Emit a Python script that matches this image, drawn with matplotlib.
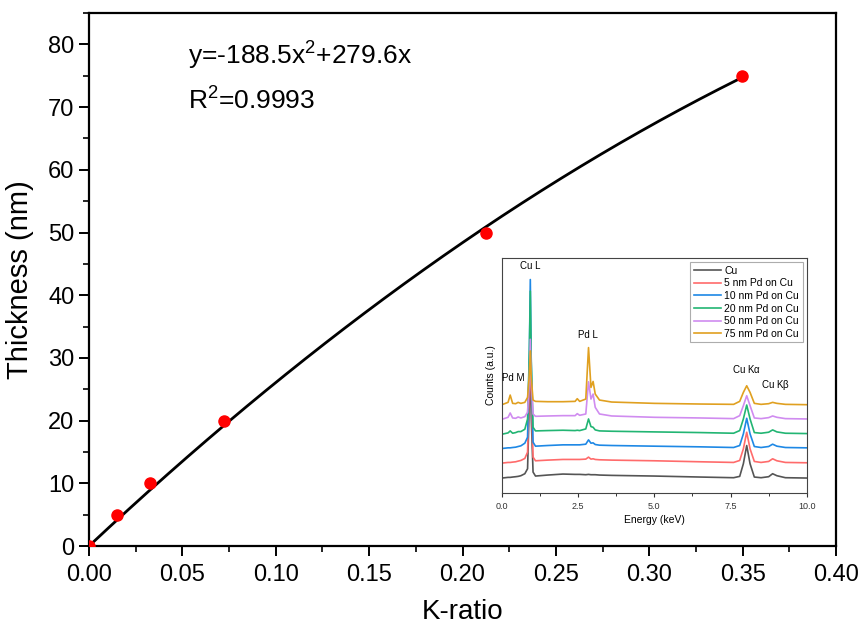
import numpy as np
import matplotlib
matplotlib.use("Agg")
import matplotlib.pyplot as plt
from matplotlib.ticker import MultipleLocator, FormatStrFormatter

plt.rcParams["font.family"] = ["Liberation Sans", "DejaVu Sans"]
plt.rcParams["mathtext.default"] = "regular"

# calibration points
k_ratio = [0.0, 0.015, 0.0328, 0.0725, 0.2126, 0.3495]
thickness = [0, 5, 10, 20, 50, 75]

# quadratic fit from the legend text
FIT_A = -188.5
FIT_B = 279.6

# inset EDS spectra (arbitrary units)
energy = [0.0, 0.2, 0.27, 0.35, 0.45, 0.53, 0.62, 0.75, 0.84, 0.9,
          0.93, 0.96, 1.02, 1.1, 1.5, 2.0, 2.4, 2.47, 2.55, 2.75,
          2.84, 2.92, 2.99, 3.06, 3.2, 3.6, 5.0, 6.5, 7.6, 7.8,
          7.92, 8.03, 8.14, 8.28, 8.5, 8.75, 8.88, 9.02, 9.3, 10.0]
cu = [45, 47, 47, 48, 49, 50, 52, 58, 73, 278,
      398, 228, 63, 51, 54, 57, 56, 56, 56, 55,
      56, 55, 55, 55, 54, 53, 51, 48, 46, 50,
      88, 143, 88, 48, 46, 49, 58, 52, 46, 45]
pd5 = [90, 92, 92, 93, 94, 96, 98, 104, 123, 328,
       478, 308, 108, 97, 99, 101, 101, 101, 101, 102,
       108, 102, 103, 101, 100, 99, 97, 94, 92, 98,
       133, 183, 133, 95, 92, 95, 103, 97, 92, 91]
pd10 = [134, 136, 136, 137, 138, 140, 142, 150, 168, 428,
        643, 398, 153, 141, 143, 145, 145, 145, 145, 147,
        160, 150, 151, 146, 144, 143, 141, 139, 137, 143,
        178, 225, 178, 140, 137, 140, 147, 141, 137, 136]
pd20 = [177, 181, 187, 180, 182, 185, 185, 192, 223, 428,
        608, 398, 198, 187, 188, 189, 188, 189, 188, 193,
        223, 200, 198, 190, 187, 186, 184, 182, 180, 188,
        223, 265, 223, 182, 180, 183, 190, 184, 180, 179]
pd50 = [222, 228, 241, 226, 225, 229, 226, 230, 243, 348,
        463, 338, 238, 231, 232, 233, 233, 239, 234, 238,
        335, 283, 298, 258, 238, 232, 228, 226, 224, 233,
        263, 293, 263, 226, 224, 227, 232, 228, 224, 223]
pd75 = [266, 273, 295, 270, 269, 273, 270, 273, 288, 358,
        428, 348, 280, 276, 275, 275, 276, 284, 276, 283,
        438, 318, 336, 298, 280, 274, 270, 268, 267, 276,
        303, 323, 303, 270, 267, 269, 273, 270, 267, 266]

spectra = [cu, pd5, pd10, pd20, pd50, pd75]
labels = ["Cu", "5 nm Pd on Cu", "10 nm Pd on Cu", "20 nm Pd on Cu",
          "50 nm Pd on Cu", "75 nm Pd on Cu"]
colors = ["#555555", "#ff6b6b", "#1e88e5", "#22b573", "#d08cf0", "#e0a020"]

peak_names = ["Cu L", "Pd M", "Pd L", "Cu K$\\alpha$", "Cu K$\\beta$"]
peak_x = [0.93, 0.36, 2.83, 8.03, 8.96]
peak_y = [670, 330, 460, 355, 305]

fig = plt.figure(figsize=(8.61, 6.3), dpi=100)
ax = fig.add_axes([0.1034, 0.1333, 0.8676, 0.846])

x_fit = np.linspace(0, k_ratio[-1], 200)
ax.plot(x_fit, FIT_A * x_fit ** 2 + FIT_B * x_fit, color="black", lw=2)
ax.plot(k_ratio, thickness, "o", color="#ff0000", ms=8, zorder=3)

ax.set_xlim(0, 0.40)
ax.set_ylim(0, 85)
ax.xaxis.set_major_locator(MultipleLocator(0.05))
ax.xaxis.set_minor_locator(MultipleLocator(0.025))
ax.yaxis.set_major_locator(MultipleLocator(10))
ax.yaxis.set_minor_locator(MultipleLocator(5))
ax.xaxis.set_major_formatter(FormatStrFormatter("%.2f"))
ax.tick_params(which="major", length=7, width=1.4, labelsize=17)
ax.tick_params(axis="x", which="major", pad=6)
ax.tick_params(which="minor", length=4, width=1.2)
for s in ax.spines.values():
    s.set_linewidth(1.6)
ax.set_xlabel("K-ratio", fontsize=20, labelpad=9)
ax.set_ylabel("Thickness (nm)", fontsize=21, labelpad=10)

ax.text(0.1325, 0.904, "y=-188.5x$^{2}$+279.6x", transform=ax.transAxes,
        fontsize=19, va="baseline")
ax.text(0.1325, 0.818, "R$^{2}$=0.9993", transform=ax.transAxes,
        fontsize=19, va="baseline")

# inset
ins = fig.add_axes([0.583, 0.2175, 0.354, 0.373])
for spec, lab, col in zip(spectra, labels, colors):
    ins.plot(energy, spec, color=col, lw=1.2, label=lab)
for name, px, py in zip(peak_names, peak_x, peak_y):
    ins.text(px, py, name, fontsize=7, ha="center", va="bottom")

ins.set_xlim(0, 10)
ins.set_ylim(0, 708)
ins.set_yticks([])
ins.xaxis.set_major_locator(MultipleLocator(2.5))
ins.xaxis.set_minor_locator(MultipleLocator(1.25))
ins.xaxis.set_major_formatter(FormatStrFormatter("%.1f"))
ins.tick_params(which="major", length=3, width=0.8, labelsize=6.5, colors="#333333")
ins.tick_params(which="minor", length=2, width=0.7, colors="#333333")
for s in ins.spines.values():
    s.set_linewidth(0.8)
    s.set_color("#444444")
ins.set_xlabel("Energy (keV)", fontsize=7.5, labelpad=3)
ins.set_ylabel("Counts (a.u.)", fontsize=7.5, labelpad=4)
leg = ins.legend(loc="upper right", fontsize=7.5, frameon=True, fancybox=False,
                 handlelength=2.6, handletextpad=0.3, labelspacing=0.25,
                 borderpad=0.35, borderaxespad=0.4)
leg.get_frame().set_edgecolor("#999999")
leg.get_frame().set_linewidth(0.8)

fig.savefig("out.png", dpi=100)
